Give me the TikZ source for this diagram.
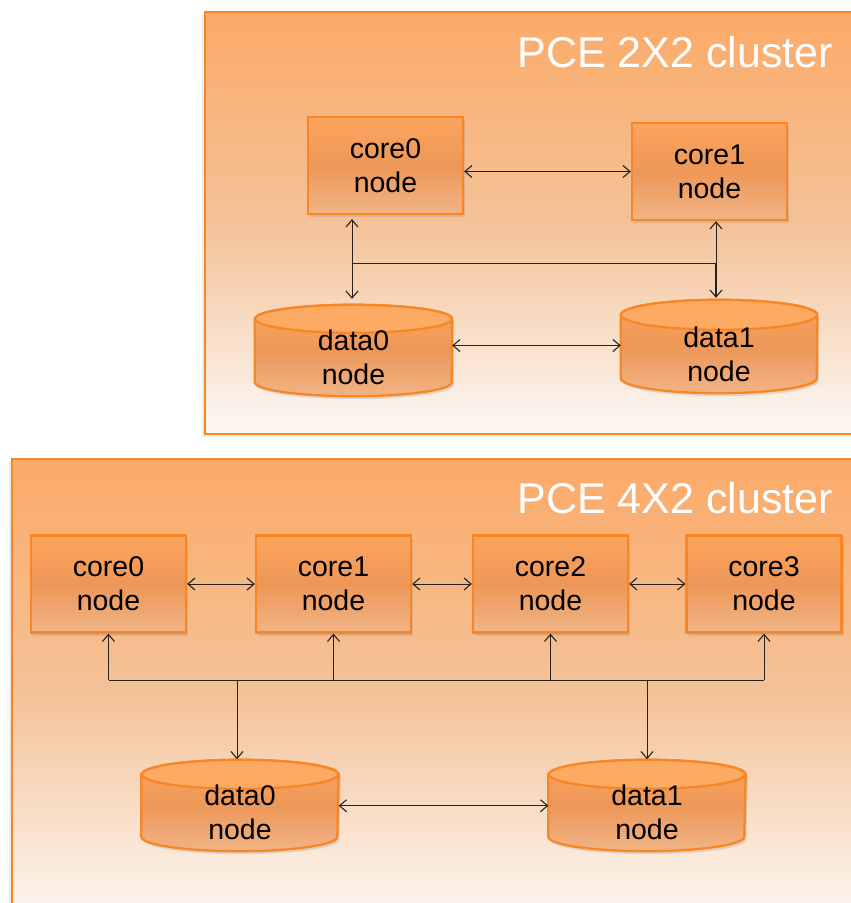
\documentclass[tikz,border=0pt]{standalone}
\usepackage{fontspec}
\setmainfont{Liberation Sans}
\usetikzlibrary{arrows.meta,shadows,calc}
\pgfdeclarelayer{back}
\pgfdeclarelayer{mid}
\pgfsetlayers{back,mid,main}
\definecolor{boxtop}{RGB}{252,170,104}
\definecolor{boxmid}{RGB}{244,194,152}
\definecolor{boxbot}{RGB}{252,248,244}
\definecolor{bordc}{RGB}{248,134,36}
\definecolor{ntop}{RGB}{253,165,94}
\definecolor{nmid}{RGB}{237,151,88}
\definecolor{nbot}{RGB}{241,180,134}
\definecolor{cyltopc}{RGB}{253,170,100}
\definecolor{linec}{RGB}{40,34,30}
\tikzset{
  x=1pt, y=1pt,
  >={Straight Barb[length=7pt,width=12pt,line width=1.1pt]},
  cluster/.style={draw=bordc, line width=2.2pt, top color=boxtop, bottom color=boxbot, middle color=boxmid,
    drop shadow={shadow xshift=-3pt, shadow yshift=-3pt, opacity=0.15}},
  corebox/.style={draw=bordc, line width=2.3pt, top color=ntop, bottom color=nbot, middle color=nmid,
    minimum width=155pt, minimum height=97pt, inner sep=0pt, align=center,
    font=\fontsize{28.5}{34}\selectfont,
    drop shadow={shadow xshift=2pt, shadow yshift=-3pt, opacity=0.22}},
  datatext/.style={minimum width=197pt, inner sep=0pt, align=center,
    font=\fontsize{28.5}{34}\selectfont},
  cylbody/.style={draw=bordc, line width=2.3pt, top color=ntop, bottom color=nbot, middle color=nmid,
    drop shadow={shadow xshift=2pt, shadow yshift=-3pt, opacity=0.22}},
  cyltop/.style={draw=bordc, line width=2.3pt, fill=cyltopc},
  cltitle/.style={text=white, font=\fontsize{43}{50}\selectfont, anchor=base east, inner sep=0pt},
  conn/.style={draw=linec, line width=0.8pt},
  thickconn/.style={draw=linec, line width=1.7pt}
}
% #1 node name, #2 x radius, #3 y radius
\newcommand\drawcyl[3]{%
  \path[cylbody] (#1.north west) -- ([yshift=#3pt]#1.south west)
    arc[start angle=180, end angle=360, x radius=#2, y radius=#3]
    -- (#1.north east)
    arc[start angle=0, end angle=180, x radius=#2, y radius=#3] -- cycle;
  \path[cyltop] (#1.north) ellipse [x radius=#2, y radius=#3];
}
\begin{document}
\begin{tikzpicture}
\useasboundingbox (0,0) rectangle (851,-903);

% ---------------- nodes ----------------
% top cluster
\node[cltitle] (t1) at (833,-67) {PCE 2X2 cluster};
\node[corebox] (a0) at (385.5,-165.5) {core0\\node};
\node[corebox] (a1) at (709.5,-171.5) {core1\\node};
\node[datatext, minimum height=77pt] (e0) at (353.5,-357.5) {data0\\node};
\node[datatext, minimum width=196pt, minimum height=78pt] (e1) at (719,-354) {data1\\node};

% bottom cluster
\node[cltitle] (t2) at (833,-513) {PCE 4X2 cluster};
\node[corebox] (c0) at (108.5,-584) {core0\\node};
\node[corebox] (c1) at (333.5,-584) {core1\\node};
\node[corebox] (c2) at (550.5,-584) {core2\\node};
\node[corebox] (c3) at (764,-584) {core3\\node};
\node[datatext, minimum height=76.5pt] (d0) at (240,-812.75) {data0\\node};
\node[datatext, minimum height=76.5pt] (d1) at (647,-812.75) {data1\\node};

% ---------------- backgrounds ----------------
\begin{pgfonlayer}{back}
  \clip (0,0) rectangle (851,-903);
  \path[cluster] (205,-12) rectangle (870,-434);
  \path[cluster] (12,-459) rectangle (870,-925);
\end{pgfonlayer}
\begin{pgfonlayer}{mid}
  \drawcyl{e0}{98.5}{14}
  \drawcyl{e1}{98}{15}
  \drawcyl{d0}{98}{14.5}
  \drawcyl{d1}{98}{14.5}
\end{pgfonlayer}

% ---------------- connectors: top ----------------
\coordinate (j0) at (352,-263);
\coordinate (j1) at (716,-263);
\draw[conn,<->] (a0.east |- a1.west) -- (a1.west);
\draw[conn,<->, shorten <=4pt, shorten >=20pt] (a0.south -| j0) -- (e0.north -| j0);
\draw[conn] (j0) -- (j1);
\draw[conn,->] (j1) -- (a1.south -| j1);
\draw[thickconn,->, shorten >=17pt] (j1) -- (e1.north -| j1);
\draw[conn,<->] ([yshift=12pt]e0.east) -- ([yshift=12pt]e0.east -| e1.west);

% ---------------- connectors: bottom ----------------
\coordinate (bl) at (108.5,-680);
\coordinate (br) at (764,-680);
\coordinate (q0) at (237,-680);
\coordinate (q1) at (647,-680);
\draw[conn,<->] (c0) -- (c1);
\draw[conn,<->] (c1) -- (c2);
\draw[conn,<->] (c2) -- (c3);
\draw[conn] (bl) -- (br);
\draw[conn,->] (c0.south |- bl) -- (c0.south);
\draw[conn,->] (c1.south |- bl) -- (c1.south);
\draw[conn,->] (c2.south |- bl) -- (c2.south);
\draw[conn,->] (c3.south |- bl) -- (c3.south);
\draw[conn,->, shorten >=15pt] (q0) -- (q0 |- d0.north);
\draw[conn,->, shorten >=15pt] (q1) -- (q1 |- d1.north);
\draw[conn,<->] ([yshift=7pt]d0.east) -- ([yshift=7pt]d0.east -| d1.west);
\end{tikzpicture}
\end{document}
